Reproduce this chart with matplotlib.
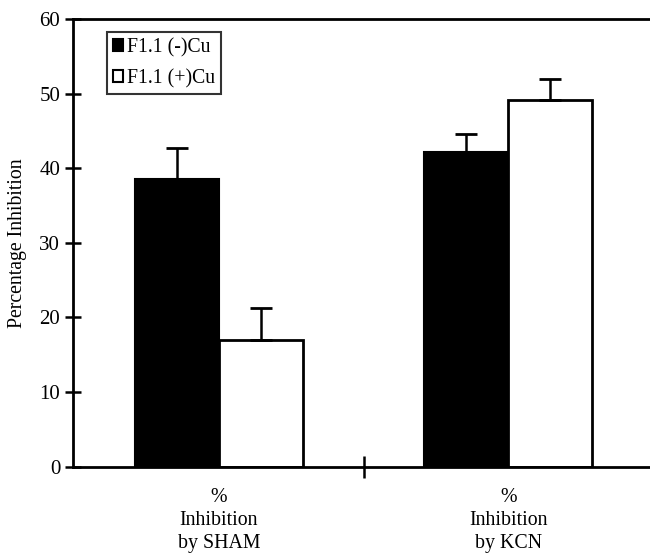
import numpy as np
import matplotlib.pyplot as plt
from matplotlib.patches import Patch

plt.rcParams['font.family'] = ['Liberation Serif', 'DejaVu Serif']

groups = ["%\nInhibition\nby SHAM", "%\nInhibition\nby KCN"]
series_names = ["F1.1 (-)Cu", "F1.1 (+)Cu"]
minus_cu = [38.5, 42.1]
minus_cu_err = [4.2, 2.5]
plus_cu = [17.0, 49.1]
plus_cu_err = [4.3, 2.9]

fig = plt.figure(figsize=(6.5, 5.55), dpi=100)
ax = fig.add_axes([0.112, 0.159, 0.888, 0.807])

x = np.arange(len(groups))
width = 0.29

ax.bar(x - width / 2, minus_cu, width, color="black", edgecolor="black", linewidth=1.5, zorder=2)
ax.bar(x + width / 2, plus_cu, width, color="white", edgecolor="black", linewidth=2, zorder=2)
ax.errorbar(x - width / 2, minus_cu, yerr=[np.zeros(2), minus_cu_err], fmt="none",
            ecolor="black", elinewidth=1.8, capsize=8, capthick=2, zorder=3)
ax.errorbar(x + width / 2, plus_cu, yerr=[np.zeros(2), plus_cu_err], fmt="none",
            ecolor="black", elinewidth=1.8, capsize=8, capthick=2, zorder=3)

ax.set_xlim(-0.505, 1.49)
ax.set_ylim(0, 60)
ax.set_yticks(np.arange(0, 61, 10))
ax.tick_params(axis="y", direction="inout", length=12, width=1.8, labelsize=15, pad=3)

ax.set_xticks([0.5])
ax.set_xticklabels([""])
ax.tick_params(axis="x", which="major", direction="inout", length=16, width=1.8)
ax.set_xticks(x, minor=True)
ax.set_xticklabels(groups, minor=True, fontsize=14.3, linespacing=1.3)
ax.tick_params(axis="x", which="minor", length=0, pad=15)

ax.set_ylabel("Percentage Inhibition", fontsize=14.2, labelpad=9)

for side in ["left", "bottom", "top"]:
    ax.spines[side].set_linewidth(2)
ax.spines["right"].set_visible(False)

handles = [Patch(facecolor="black", edgecolor="black", linewidth=1.5),
           Patch(facecolor="white", edgecolor="black", linewidth=1.5)]
leg = ax.legend(handles, series_names, loc="upper left", bbox_to_anchor=(0.059, 0.971),
                fontsize=14.2, frameon=True, fancybox=False, edgecolor="black",
                handlelength=0.5, handleheight=0.5, handletextpad=0.2,
                borderpad=0.3, labelspacing=0.6, borderaxespad=0)
leg.get_frame().set_linewidth(1.5)

fig.savefig("out.png", dpi=100)
